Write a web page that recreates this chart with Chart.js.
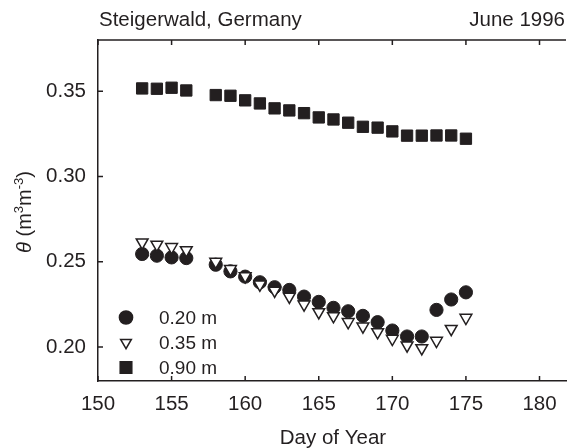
<!DOCTYPE html>
<html>
<head>
<meta charset="utf-8">
<script src="https://cdn.jsdelivr.net/npm/chart.js@4/dist/chart.umd.min.js"></script>
<style>
  html, body { margin: 0; padding: 0; background: #fff; }
  #wrap { width: 575px; height: 448px; }
</style>
</head>
<body>
<div id="wrap"><canvas id="myChart" width="575" height="448"></canvas></div>
<script>
const days = [153, 154, 155, 156, 158, 159, 160, 161, 162, 163, 164, 165, 166, 167, 168, 169, 170, 171, 172, 173, 174, 175];
const theta020 = [0.2545, 0.2535, 0.2525, 0.2521, 0.2482, 0.2443, 0.2412, 0.2379, 0.2350, 0.2334, 0.2295, 0.2264, 0.2229, 0.2209, 0.2182, 0.2145, 0.2096, 0.2061, 0.2061, 0.2217, 0.2278, 0.2320];
const theta035 = [0.2613, 0.2600, 0.2586, 0.2568, 0.2500, 0.2457, 0.2415, 0.2366, 0.2330, 0.2295, 0.2249, 0.2204, 0.2181, 0.2146, 0.2120, 0.2087, 0.2048, 0.2009, 0.1993, 0.2036, 0.2106, 0.2171];
const theta090 = [0.3516, 0.3514, 0.3520, 0.3504, 0.3477, 0.3473, 0.3446, 0.3428, 0.3399, 0.3387, 0.3371, 0.3346, 0.3334, 0.3315, 0.3291, 0.3286, 0.3264, 0.3239, 0.3239, 0.3240, 0.3240, 0.3221];
const seriesLabels = ['0.20 m', '0.35 m', '0.90 m'];
const xTicks = [150, 155, 160, 165, 170, 175, 180];
const yTicks = [0.20, 0.25, 0.30, 0.35];

const ink = '#231f20';
const font = 'Liberation Sans, Arial, Helvetica, sans-serif';

function pts(vals) {
  return days.map((d, i) => ({ x: d, y: vals[i] }));
}

// inward ticks, top frame line, titles, legend
const decor = {
  id: 'decor',
  afterDraw(chart) {
    const ctx = chart.ctx;
    const a = chart.chartArea;
    const xs = chart.scales.x, ys = chart.scales.y;
    ctx.save();
    ctx.strokeStyle = ink;
    ctx.lineWidth = 1.5;
    ctx.beginPath();
    ctx.moveTo(a.left, a.top);
    ctx.lineTo(a.right, a.top);
    xTicks.forEach(v => {
      const px = xs.getPixelForValue(v);
      ctx.moveTo(px, a.bottom); ctx.lineTo(px, a.bottom - 5);
      ctx.moveTo(px, a.top); ctx.lineTo(px, a.top + 5);
    });
    yTicks.forEach(v => {
      const py = ys.getPixelForValue(v);
      ctx.moveTo(a.left, py); ctx.lineTo(a.left + 5, py);
    });
    ctx.stroke();

    // header texts
    ctx.fillStyle = ink;
    ctx.font = '20.5px ' + font;
    ctx.textBaseline = 'middle';
    ctx.textAlign = 'left';
    ctx.fillText('Steigerwald, Germany', 99, 20);
    ctx.textAlign = 'right';
    ctx.fillText('June 1996', 565, 20);

    // x axis title
    ctx.font = '20.5px ' + font;
    ctx.textAlign = 'center';
    ctx.fillText('Day of Year', 333, 438);

    // y axis title with superscripts
    ctx.translate(31, 212);
    ctx.rotate(-Math.PI / 2);
    const parts = [
      { t: '\u03B8', f: 'italic 20px ' + font, dy: 0 },
      { t: ' (m', f: '20px ' + font, dy: 0 },
      { t: '3', f: '13px ' + font, dy: -8 },
      { t: 'm', f: '20px ' + font, dy: 0 },
      { t: '-3', f: '13px ' + font, dy: -8 },
      { t: ')', f: '20px ' + font, dy: 0 }
    ];
    let total = 0;
    parts.forEach(p => { ctx.font = p.f; p.w = ctx.measureText(p.t).width; total += p.w; });
    let cx = -total / 2;
    ctx.textAlign = 'left';
    ctx.textBaseline = 'alphabetic';
    parts.forEach(p => { ctx.font = p.f; ctx.fillText(p.t, cx, p.dy); cx += p.w; });
    ctx.setTransform(1, 0, 0, 1, 0, 0);

    // legend inside plot
    const rows = [
      { style: 'circle', r: 6.6, rot: 0, fill: ink, dy: -63.5 },
      { style: 'triangle', r: 6.2, rot: 180, fill: '#fff', dy: -38.5 },
      { style: 'rect', r: 8.2, rot: 0, fill: ink, dy: -13.5 }
    ];
    rows.forEach((row, i) => {
      const y = a.bottom + row.dy;
      ctx.fillStyle = row.fill;
      ctx.strokeStyle = ink;
      ctx.lineWidth = 1.5;
      Chart.helpers.drawPoint(ctx, { pointStyle: row.style, radius: row.r, rotation: row.rot, borderWidth: 1.5 }, a.left + 28, y);
      ctx.fillStyle = ink;
      ctx.font = '19px ' + font;
      ctx.textAlign = 'left';
      ctx.textBaseline = 'middle';
      ctx.fillText(seriesLabels[i], 159, y + 1);
    });
    ctx.restore();
  }
};

new Chart(document.getElementById('myChart').getContext('2d'), {
  type: 'scatter',
  data: {
    datasets: [
      {
        label: seriesLabels[0],
        data: pts(theta020),
        pointStyle: 'circle',
        pointRadius: 6.6,
        backgroundColor: ink,
        borderColor: ink,
        borderWidth: 1,
        order: 1
      },
      {
        label: seriesLabels[1],
        data: pts(theta035),
        pointStyle: 'triangle',
        pointRotation: 180,
        pointRadius: 6.8,
        backgroundColor: '#fff',
        borderColor: ink,
        borderWidth: 1.5,
        order: 0
      },
      {
        label: seriesLabels[2],
        data: pts(theta090),
        pointStyle: 'rect',
        pointRadius: 8,
        backgroundColor: ink,
        borderColor: ink,
        borderWidth: 1,
        order: 2
      }
    ]
  },
  options: {
    responsive: false,
    animation: false,
    devicePixelRatio: 1,
    layout: { padding: { top: 40, left: 0, right: 0, bottom: 0 } },
    plugins: {
      legend: { display: false },
      tooltip: { enabled: false }
    },
    scales: {
      x: {
        type: 'linear',
        min: 150,
        max: 181.8,
        afterBuildTicks: s => { s.ticks = xTicks.map(v => ({ value: v })); },
        afterFit: s => { s.height = 67; },
        grid: { drawOnChartArea: false, drawTicks: false },
        border: { display: true, color: ink, width: 1.5 },
        ticks: {
          color: ink,
          font: { family: font, size: 20.5 },
          padding: 11,
          maxRotation: 0
        },
        title: { display: false }
      },
      y: {
        type: 'linear',
        min: 0.18,
        max: 0.38,
        afterBuildTicks: s => { s.ticks = yTicks.map(v => ({ value: v })); },
        afterFit: s => { s.width = 98; },
        grid: { drawOnChartArea: false, drawTicks: false },
        border: { display: true, color: ink, width: 1.5 },
        ticks: {
          color: ink,
          font: { family: font, size: 20.5 },
          padding: 12,
          callback: v => v.toFixed(2)
        }
      }
    }
  },
  plugins: [decor]
});
</script>
</body>
</html>
